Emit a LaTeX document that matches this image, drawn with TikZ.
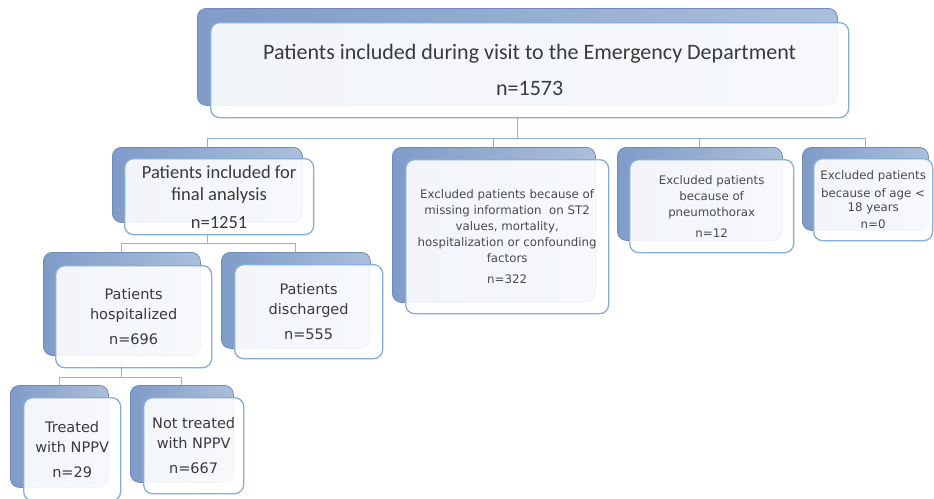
\documentclass[tikz,border=0pt]{standalone}
\usepackage{fontspec}
\setmainfont{Carlito}
\newfontfamily\tahfont{DejaVu Sans}
\usetikzlibrary{positioning}

\definecolor{backleft}{HTML}{7F9BC7}
\definecolor{backright}{HTML}{ABBFDB}
\definecolor{backline}{HTML}{6F8BB7}
\definecolor{frontline}{HTML}{84AEDB}
\definecolor{connline}{HTML}{8DB4DF}
\definecolor{txt}{HTML}{3A3A3A}
\definecolor{txtlight}{HTML}{4A4A4A}

\begin{document}
\begin{tikzpicture}[x=1pt, y=-1pt,
    every node/.style={inner sep=0pt, anchor=north west, rounded corners=9pt, text=txt, align=center},
    size/.style 2 args={minimum width=#1pt, minimum height=#2pt},
    backbox/.style={draw=backline, line width=0.8pt, left color=backleft, right color=backright},
    frontbox/.style={draw=frontline, line width=1.3pt, fill=white, fill opacity=0.9, text opacity=1},
    conn/.style={draw=connline, line width=1.1pt},
    big/.style={font=\fontsize{22}{36}\selectfont},
    mid/.style={font=\fontsize{18.5}{22}\selectfont},
    small/.style={font=\tahfont\fontsize{14.5}{20}\selectfont},
    tiny/.style={text=txtlight, font=\tahfont\fontsize{11.8}{16}\selectfont}]
    \fill[white] (0,0) rectangle (934,498);
    \useasboundingbox (0,0) rectangle (934,498);
    \clip (0,0) rectangle (934,498);

    % shadow boxes
    \node[backbox, size={640}{97}] (visitb) at (197,8) {};
    \node[backbox, size={190}{75}] (finalb) at (112,147) {};
    \node[backbox, size={203}{155}] (missb) at (392,147) {};
    \node[backbox, size={165}{93}] (pneub) at (617,147) {};
    \node[backbox, size={126}{83}] (ageb) at (802,147) {};
    \node[backbox, size={157}{103}] (hospb) at (43,252) {};
    \node[backbox, size={149}{96}] (dischb) at (221,252) {};
    \node[backbox, size={98}{102}] (treatb) at (10,385) {};
    \node[backbox, size={103}{97}] (notb) at (130,385) {};

    % tree lines
    \draw[conn] (visitb.south) -- ++(0,33) coordinate (split1);
    \draw[conn] (finalb.north) |- (split1) -| (ageb.north);
    \draw[conn] (split1) -| (missb.north);
    \draw[conn] (split1) -| (pneub.north);
    \draw[conn] (finalb.south) -- ++(0,21) coordinate (split2);
    \draw[conn] (hospb.north) |- (split2) -| (dischb.north);
    \draw[conn] (hospb.south) -- ++(0,22) coordinate (split3);
    \draw[conn] (treatb.north) |- (split3) -| (notb.north);

    % text boxes
    \node[frontbox, big, size={638}{95}] (visit) at (210,22)
        {Patients included during visit to the Emergency Department\\ n=1573};
    \node[frontbox, mid, size={189}{76}] (final) at (124,158)
        {Patients included for\\ final analysis\\[6pt] n=1251};
    \node[frontbox, tiny, size={203}{154}] (miss) at (405,159)
        {Excluded patients because of\\ missing information\ \ on ST2\\ values, mortality,\\ hospitalization or confounding\\ factors\\[5pt] n=322};
    \node[frontbox, tiny, size={164}{93}] (pneu) at (629,159)
        {Excluded patients\\ because of\\ pneumothorax\\[5pt] n=12};
    \node[frontbox, tiny, size={119}{82}, font=\tahfont\fontsize{11.8}{14.5}\selectfont] (age) at (813,158)
        {\raisebox{3pt}{Excluded patients}\\ because of age <\\ 18 years\\[2pt] n=0};
    \node[frontbox, small, size={156}{102}] (hosp) at (55,265)
        {Patients\\ hospitalized\\[5pt] n=696};
    \node[frontbox, small, size={148}{94}] (disch) at (234,264)
        {Patients\\ discharged\\[5pt] n=555};
    \node[frontbox, small, size={97}{103}] (treat) at (23,397)
        {Treated\\ with NPPV\\[5pt] n=29};
    \node[frontbox, small, size={100}{96}] (nottreat) at (143,397)
        {Not treated\\ with NPPV\\[5pt] n=667};
\end{tikzpicture}
\end{document}
